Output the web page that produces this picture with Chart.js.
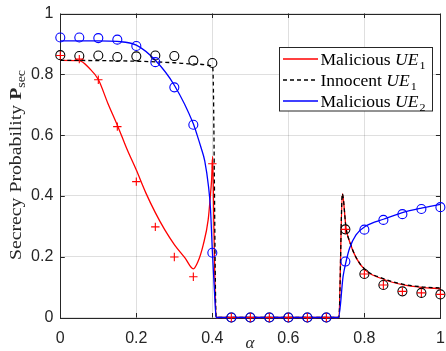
<!DOCTYPE html>
<html>
<head>
<meta charset="utf-8">
<script src="https://cdn.jsdelivr.net/npm/chart.js@4.4.1/dist/chart.umd.min.js"></script>
<style>
    html, body { margin: 0; padding: 0; background: #fff; }
    #wrap { width: 446px; height: 351px; }
</style>
</head>
<body>
<div id="wrap"><canvas id="chart" width="446" height="351"></canvas></div>
<script>
// simulated points (markers), alpha = 0 : 0.05 : 1
var markAlpha = [0, 0.05, 0.1, 0.15, 0.2, 0.25, 0.3, 0.35, 0.4, 0.45, 0.5,
    0.55, 0.6, 0.65, 0.7, 0.75, 0.8, 0.85, 0.9, 0.95, 1];
var markMalicious1 = [0.862, 0.850, 0.782, 0.628, 0.447, 0.298, 0.199, 0.134, 0.506, 0, 0,
    0, 0, 0, 0, 0.290, 0.143, 0.107, 0.086, 0.081, 0.076];
var markInnocent1 = [0.863, 0.860, 0.862, 0.857, 0.859, 0.862, 0.860, 0.845, 0.837, 0, 0,
    0, 0, 0, 0, 0.290, 0.143, 0.107, 0.086, 0.081, 0.076];
var markMalicious2 = [0.921, 0.921, 0.919, 0.914, 0.893, 0.840, 0.757, 0.634, 0.213, 0, 0,
    0, 0, 0, 0, 0.184, 0.289, 0.321, 0.340, 0.357, 0.363];

// analytical curves
var curveAlphaRed = [0, 0.05, 0.077, 0.1, 0.125, 0.152, 0.175, 0.2, 0.225, 0.25, 0.275, 0.3,
    0.328, 0.35, 0.362, 0.376, 0.389, 0.395, 0.398, 0.401, 0.404, 0.41, 0.733, 0.742, 0.752,
    0.761, 0.778, 0.803, 0.852, 0.9, 0.95, 1];
var curveMalicious1 = [0.846, 0.845, 0.819, 0.783, 0.705, 0.627, 0.555, 0.485, 0.410, 0.345, 0.288, 0.240,
    0.196, 0.160, 0.183, 0.239, 0.321, 0.403, 0.452, 0.530, 0.300, 0, 0, 0.407, 0.292,
    0.250, 0.197, 0.155, 0.125, 0.108, 0.099, 0.095];

var curveAlphaBlack = [0, 0.1, 0.2, 0.3, 0.35, 0.4, 0.402, 0.41, 0.733, 0.742, 0.752,
    0.761, 0.778, 0.803, 0.852, 0.9, 0.95, 1];
var curveInnocent1 = [0.846, 0.845, 0.843, 0.838, 0.834, 0.827, 0.80, 0, 0, 0.407, 0.292,
    0.251, 0.198, 0.157, 0.127, 0.110, 0.101, 0.097];

var curveAlphaBlue = [0, 0.1, 0.15, 0.2, 0.25, 0.3, 0.35, 0.36, 0.37, 0.38, 0.39, 0.395,
    0.4, 0.405, 0.41, 0.732, 0.744, 0.752, 0.761, 0.778, 0.803, 0.852, 0.9, 0.95, 1];
var curveMalicious2 = [0.910, 0.910, 0.908, 0.896, 0.846, 0.764, 0.637, 0.600, 0.560, 0.515, 0.43, 0.36,
    0.22, 0.10, 0, 0, 0.135, 0.185, 0.228, 0.272, 0.300, 0.324, 0.345, 0.360, 0.372];

var xTicks = [0, 0.2, 0.4, 0.6, 0.8, 1];
var xTickLabels = ['0', '0.2', '0.4', '0.6', '0.8', '1'];
var yTicks = [0, 0.2, 0.4, 0.6, 0.8, 1];
var yTickLabels = ['0', '0.2', '0.4', '0.6', '0.8', '1'];

// legend rows: [text, style] runs
var legendColors = ['#ff0000', '#000000', '#0000ff'];
var legendDashes = [[], [4, 3], []];
var legendRuns = [
    [['Malicious ', 'rm'], ['UE', 'it'], ['1', 'sub']],
    [['Innocent ', 'rm'], ['UE', 'it'], ['1', 'sub']],
    [['Malicious ', 'rm'], ['UE', 'it'], ['2', 'sub']]
];
var yTitleRuns = [['Secrecy Probability ', 'rm'], ['P', 'bf'], ['sec', 'sub']];
var xTitleRuns = [['\u03b1', 'it']];

(function () {
    'use strict';

    var SERIF = '"Liberation Serif", "Times New Roman", serif';
    var AXIS_COLOR = '#262626';

    function pairs(xs, ys) {
        var out = [];
        for (var i = 0; i < xs.length; i++) {
            out.push({ x: xs[i], y: ys[i] });
        }
        return out;
    }

    function runFont(style, size) {
        if (style === 'it') {
            return 'italic ' + size + 'px ' + SERIF;
        }
        if (style === 'bf') {
            return 'bold ' + size + 'px ' + SERIF;
        }
        if (style === 'sub') {
            return Math.round(size * 0.7) + 'px ' + SERIF;
        }
        return size + 'px ' + SERIF;
    }

    function runsWidth(ctx, runs, size) {
        var w = 0;
        for (var i = 0; i < runs.length; i++) {
            ctx.font = runFont(runs[i][1], size);
            w += ctx.measureText(runs[i][0]).width + (runs[i][1] === 'it' ? 1 : 0);
        }
        return w;
    }

    // draws mixed runs starting at (x, y) on the baseline, stretched by sx
    function drawRuns(ctx, runs, x, y, size, sx) {
        ctx.save();
        ctx.translate(x, y);
        ctx.scale(sx || 1, 1);
        ctx.textBaseline = 'alphabetic';
        ctx.textAlign = 'left';
        var cx = 0;
        for (var i = 0; i < runs.length; i++) {
            var r = runs[i];
            ctx.font = runFont(r[1], size);
            var dy = r[1] === 'sub' ? size * 0.25 : 0;
            ctx.fillText(r[0], cx, dy);
            cx += ctx.measureText(r[0]).width + (r[1] === 'it' ? 1 : 0);
        }
        ctx.restore();
    }

    var framePlugin = {
        id: 'frame',
        beforeDatasetsDraw: function (chart) {
            var ctx = chart.ctx;
            var a = chart.chartArea;
            var xs = chart.scales.x;
            var ys = chart.scales.y;
            var tl = 4.5;
            var i, p;
            ctx.save();
            ctx.strokeStyle = AXIS_COLOR;
            ctx.lineWidth = 1;
            ctx.beginPath();
            for (i = 0; i < xTicks.length; i++) {
                p = Math.round(xs.getPixelForValue(xTicks[i])) + 0.5;
                ctx.moveTo(p, a.bottom);
                ctx.lineTo(p, a.bottom - tl);
                ctx.moveTo(p, a.top);
                ctx.lineTo(p, a.top + tl);
            }
            for (i = 0; i < yTicks.length; i++) {
                p = Math.round(ys.getPixelForValue(yTicks[i])) + 0.5;
                ctx.moveTo(a.left, p);
                ctx.lineTo(a.left + tl, p);
                ctx.moveTo(a.right, p);
                ctx.lineTo(a.right - tl, p);
            }
            ctx.stroke();
            ctx.strokeRect(Math.round(a.left) + 0.5, Math.round(a.top) + 0.5,
                Math.round(a.right - a.left), Math.round(a.bottom - a.top));
            ctx.restore();
        },
        afterDraw: function (chart) {
            var ctx = chart.ctx;
            var a = chart.chartArea;
            var i;
            ctx.save();
            ctx.fillStyle = AXIS_COLOR;

            // y title, stretched to the span of the original label
            var tsize = 17;
            var w = runsWidth(ctx, yTitleRuns, tsize);
            var target = 190;
            ctx.save();
            ctx.translate(21, 165);
            ctx.rotate(-Math.PI / 2);
            drawRuns(ctx, yTitleRuns, -target / 2, 0, tsize, target / w);
            ctx.restore();

            // x title
            w = runsWidth(ctx, xTitleRuns, 17);
            drawRuns(ctx, xTitleRuns, (a.left + a.right) / 2 - w / 2, 348, 17);

            // legend
            var bx = 279.5, by = 47.5, bw = 153, bh = 63.5;
            ctx.fillStyle = '#ffffff';
            ctx.fillRect(bx, by, bw, bh);
            ctx.strokeStyle = AXIS_COLOR;
            ctx.lineWidth = 1;
            ctx.strokeRect(bx, by, bw, bh);
            var rowY = [59, 80, 101];
            var lsx = 105 / runsWidth(ctx, legendRuns[0], 16);
            for (i = 0; i < legendRuns.length; i++) {
                var col = legendColors[i];
                ctx.save();
                ctx.beginPath();
                ctx.setLineDash(legendDashes[i]);
                ctx.strokeStyle = col;
                ctx.lineWidth = 1.5;
                ctx.moveTo(283, rowY[i]);
                ctx.lineTo(318, rowY[i]);
                ctx.stroke();
                ctx.restore();
                ctx.fillStyle = '#000000';
                drawRuns(ctx, legendRuns[i], 320.5, rowY[i] + 5.5, 16, lsx);
            }
            ctx.restore();
        }
    };

    function markerSet(data, style, color, radius) {
        return {
            data: data,
            showLine: false,
            pointStyle: style,
            pointRadius: radius,
            pointBorderColor: color,
            pointBackgroundColor: 'rgba(0,0,0,0)',
            pointBorderWidth: 1.1,
            borderColor: color,
            clip: false
        };
    }

    function curveSet(data, color, dash) {
        return {
            data: data,
            borderColor: color,
            borderWidth: 1.3,
            borderDash: dash,
            pointRadius: 0,
            fill: false,
            cubicInterpolationMode: 'monotone',
            clip: 2
        };
    }

    function boot() {
        var canvas = document.getElementById('chart');
        if (typeof Chart === 'undefined') {
            return;
        }
        var tickFont = { family: '"Liberation Sans", Arial, sans-serif', size: 16 };
        var gridColor = 'rgba(38, 38, 38, 0.15)';

        new Chart(canvas, {
            type: 'line',
            data: {
                datasets: [
                    markerSet(pairs(markAlpha, markMalicious1), 'cross', '#ff0000', 4.2),
                    markerSet(pairs(markAlpha, markMalicious2), 'circle', '#0000ff', 4.5),
                    markerSet(pairs(markAlpha, markInnocent1), 'circle', '#000000', 4.5),
                    curveSet(pairs(curveAlphaBlue, curveMalicious2), '#0000ff', []),
                    curveSet(pairs(curveAlphaBlack, curveInnocent1), '#000000', [4, 3]),
                    curveSet(pairs(curveAlphaRed, curveMalicious1), '#ff0000', [])
                ]
            },
            options: {
                responsive: false,
                animation: false,
                events: [],
                layout: { padding: { top: 13.5, right: 1, left: 0.3, bottom: 0 } },
                plugins: {
                    legend: { display: false },
                    tooltip: { enabled: false }
                },
                scales: {
                    x: {
                        type: 'linear',
                        min: 0,
                        max: 1,
                        afterBuildTicks: function (s) {
                            s.ticks = xTicks.map(function (v) { return { value: v }; });
                        },
                        afterFit: function (s) {
                            s.height = 33.5;
                            s.paddingLeft = 0;
                            s.paddingRight = 0;
                        },
                        ticks: {
                            autoSkip: false,
                            maxRotation: 0,
                            padding: 11,
                            color: AXIS_COLOR,
                            font: tickFont,
                            callback: function (v, i) { return xTickLabels[i]; }
                        },
                        grid: { color: gridColor, drawTicks: false },
                        border: { display: false }
                    },
                    y: {
                        type: 'linear',
                        min: 0,
                        max: 1,
                        afterBuildTicks: function (s) {
                            s.ticks = yTicks.map(function (v) { return { value: v }; });
                        },
                        afterFit: function (s) {
                            s.width = 60;
                            s.paddingTop = 0;
                            s.paddingBottom = 0;
                        },
                        ticks: {
                            autoSkip: false,
                            padding: 7,
                            color: AXIS_COLOR,
                            font: tickFont,
                            callback: function (v, i) { return yTickLabels[i]; }
                        },
                        grid: { color: gridColor, drawTicks: false },
                        border: { display: false }
                    }
                }
            },
            plugins: [framePlugin]
        });
    }

    if (document.readyState === 'loading') {
        document.addEventListener('DOMContentLoaded', boot);
    } else {
        boot();
    }
})();
</script>
</body>
</html>
